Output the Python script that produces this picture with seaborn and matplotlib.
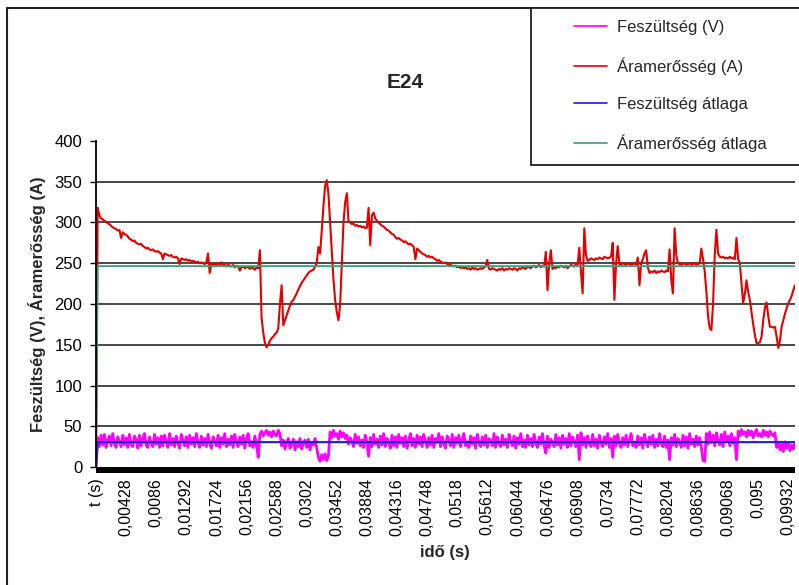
import numpy as np
import pandas as pd
import matplotlib
matplotlib.use("Agg")
import matplotlib.pyplot as plt
import seaborn as sns
from matplotlib.patches import Rectangle
from matplotlib.lines import Line2D

# ---------------- data (every 6th sample of the record, first row = header -> 0) ----------------
tick_labels = ["t (s)", "0,00428", "0,0086", "0,01292", "0,01724", "0,02156", "0,02588",
               "0,0302", "0,03452", "0,03884", "0,04316", "0,04748", "0,0518", "0,05612",
               "0,06044", "0,06476", "0,06908", "0,0734", "0,07772", "0,08204", "0,08636",
               "0,09068", "0,095", "0,09932"]

current = [0,
    318, 309, 305, 304, 302, 301, 299, 298, 296, 294, 293, 292, 290, 291, 281, 288, 286, 285, 283,
    280, 279, 277, 278, 275, 274, 273, 274, 271, 270, 268, 269, 267, 266, 267, 265, 264, 265, 263, 262,
    255, 262, 261, 260, 259, 260, 258, 257, 258, 256, 249, 256, 255, 254, 255, 253, 254, 252, 253, 252,
    251, 252, 250, 251, 250, 249, 251, 262, 238, 250, 248, 249, 247, 250, 248, 251, 247, 248, 246, 249,
    247, 246, 248, 245, 247, 246, 241, 245, 246, 244, 245, 246, 243, 245, 244, 242, 245, 244, 266, 184,
    165, 152, 147, 150, 155, 158, 160, 163, 165, 170, 200, 223, 174, 180, 186, 192, 198, 203, 205, 209,
    213, 218, 222, 226, 229, 232, 235, 238, 240, 241, 242, 246, 250, 270, 262, 290, 320, 345, 352, 335,
    300, 265, 230, 205, 190, 180, 200, 250, 300, 325, 336, 302, 300, 298, 299, 296, 297, 295, 296, 294,
    295, 293, 294, 318, 272, 309, 312, 305, 302, 300, 298, 296, 295, 293, 291, 290, 288, 286, 285, 282,
    280, 281, 279, 278, 276, 277, 275, 273, 274, 272, 270, 255, 268, 266, 264, 262, 261, 260, 258, 259,
    257, 258, 256, 255, 253, 254, 252, 251, 250, 251, 249, 248, 248, 247, 246, 247, 245, 246, 244, 245,
    244, 245, 243, 244, 242, 245, 243, 244, 242, 243, 244, 243, 245, 246, 254, 243, 242, 244, 243, 242,
    241, 243, 242, 244, 241, 243, 242, 244, 243, 242, 244, 243, 241, 244, 243, 245, 244, 243, 246, 245,
    244, 246, 247, 245, 246, 248, 245, 247, 246, 264, 217, 250, 266, 243, 245, 244, 246, 245, 247, 246,
    245, 247, 244, 246, 248, 247, 246, 249, 248, 269, 240, 213, 293, 260, 253, 254, 256, 255, 254, 256,
    255, 257, 256, 255, 258, 257, 256, 257, 258, 275, 205, 250, 271, 249, 248, 250, 249, 248, 250, 249,
    248, 249, 250, 248, 257, 223, 250, 255, 262, 266, 245, 238, 240, 239, 241, 238, 240, 239, 241, 240,
    239, 241, 240, 267, 230, 213, 293, 260, 250, 249, 248, 249, 250, 248, 249, 250, 248, 249, 250, 248,
    249, 250, 268, 255, 240, 215, 185, 170, 168, 200, 260, 291, 262, 258, 257, 258, 256, 257, 256, 258,
    256, 257, 255, 281, 255, 250, 225, 201, 212, 229, 215, 205, 190, 175, 162, 152, 152, 153, 160, 180,
    195, 202, 185, 172, 172, 171, 172, 160, 146, 155, 172, 180, 188, 195, 201, 205, 210, 217, 223]

voltage = [0,
    36, 25, 39, 27, 40, 24, 33, 38, 26, 41, 29, 24, 37, 31, 25, 39, 27, 36, 24,
    40, 28, 25, 38, 33, 23, 39, 26, 35, 41, 27, 24, 37, 30, 25, 40, 28, 36, 24, 38,
    26, 39, 31, 24, 41, 27, 35, 25, 38, 29, 23, 40, 33, 26, 37, 24, 39, 28, 36, 25,
    41, 30, 24, 38, 27, 35, 25, 40, 29, 23, 37, 32, 26, 39, 24, 36, 28, 41, 25, 34,
    27, 38, 24, 40, 30, 25, 37, 28, 39, 23, 35, 41, 26, 31, 24, 38, 27, 12, 40, 44,
    38, 42, 45, 39, 43, 37, 44, 40, 38, 45, 41, 26, 33, 22, 30, 35, 23, 28, 34, 21,
    31, 25, 35, 22, 29, 33, 24, 34, 21, 30, 27, 35, 23, 12, 7, 15, 9, 16, 8, 14,
    43, 36, 45, 38, 41, 34, 44, 37, 42, 35, 39, 28, 36, 31, 25, 40, 29, 37, 26, 33,
    24, 39, 30, 13, 36, 25, 40, 28, 34, 24, 38, 27, 41, 25, 35, 30, 23, 39, 26, 37,
    24, 40, 29, 36, 25, 38, 23, 33, 41, 26, 35, 24, 39, 28, 37, 25, 40, 31, 24, 36,
    27, 39, 24, 35, 30, 41, 25, 37, 28, 23, 38, 33, 26, 40, 24, 36, 29, 39, 25, 34,
    41, 26, 31, 24, 38, 28, 36, 23, 40, 30, 25, 37, 27, 39, 24, 35, 32, 26, 41, 24,
    37, 29, 25, 39, 27, 34, 24, 40, 31, 26, 38, 23, 36, 28, 41, 25, 33, 24, 39, 27,
    35, 25, 40, 29, 24, 37, 28, 41, 26, 17, 38, 24, 34, 30, 25, 40, 27, 36, 23, 39,
    28, 35, 24, 41, 26, 37, 31, 25, 39, 9, 42, 27, 36, 24, 38, 29, 25, 40, 26, 34,
    23, 39, 30, 25, 37, 28, 41, 24, 35, 12, 38, 26, 40, 29, 24, 36, 27, 39, 25, 33,
    41, 26, 30, 24, 38, 27, 36, 23, 40, 31, 25, 37, 28, 39, 24, 34, 26, 41, 29, 25,
    38, 24, 33, 9, 36, 27, 40, 25, 35, 30, 24, 39, 26, 37, 23, 41, 28, 34, 25, 38,
    27, 36, 24, 8, 7, 41, 28, 43, 30, 39, 26, 42, 33, 27, 40, 25, 43, 31, 38, 26,
    41, 29, 36, 9, 44, 38, 46, 40, 43, 37, 45, 39, 44, 36, 42, 46, 38, 41, 37, 45,
    39, 43, 37, 44, 40, 38, 42, 24, 30, 21, 28, 19, 31, 23, 29, 20, 27, 22, 30]

voltage_avg_value = 30.5
current_avg_value = 246.5

series_names = ["Feszültség (V)", "Áramerősség (A)", "Feszültség átlaga", "Áramerősség átlaga"]
series_colors = ["#FF00FF", "#E60000", "#1C1CCC", "#3E9E78"]

n = len(current)
voltage_avg = [0] + [voltage_avg_value] * (n - 1)
current_avg = [0] + [current_avg_value] * (n - 1)
sample = np.arange(n)

df = pd.concat([pd.DataFrame({"i": sample, "v": vals, "s": name})
                for name, vals in zip(series_names, [voltage, current, voltage_avg, current_avg])],
               ignore_index=True)

# ---------------- figure ----------------
sns.set_theme(style="white")
plt.rcParams["font.family"] = ["Liberation Sans", "DejaVu Sans"]

W, H = 799, 585
fig = plt.figure(figsize=(W / 100, H / 100), dpi=100)
fig.patch.set_facecolor("white")
ax_l, ax_r, ax_t, ax_b = 96, 795, 141, 467
ax = fig.add_axes([ax_l / W, 1 - ax_b / H, (ax_r - ax_l) / W, (ax_b - ax_t) / H])

sns.lineplot(data=df, x="i", y="v", hue="s", hue_order=series_names,
             palette=dict(zip(series_names, series_colors)), estimator=None, sort=False,
             legend=False, ax=ax, linewidth=1.0)
for ln, lw in zip(ax.lines, [2.0, 1.5, 1.5, 1.3]):
    ln.set_linewidth(lw)

ax.set_xlim(0, n - 1)
ax.set_ylim(0, 400)
ax.set_xlabel("")
ax.set_ylabel("")

# y axis
ax.set_yticks(range(0, 401, 50))
ax.tick_params(axis="y", length=4.3, width=1, color="black", pad=5.5, labelsize=12,
               labelcolor="black", left=True)
ax.yaxis.grid(True, color="#3a3a3a", linewidth=1.3)
gl = ax.get_ygridlines()
gl[0].set_visible(False)
gl[-1].set_visible(False)

# x axis (category labels every 108 records = every 18 plotted samples)
ax.set_xticks([18 * k for k in range(len(tick_labels))])
ax.set_xticklabels(tick_labels, rotation=90, fontsize=11.5, color="black")
ax.tick_params(axis="x", length=4.3, width=1.2, color="white", pad=3.6, bottom=True,
               direction="out")
band_h = 6 / (ax_b - ax_t)
ax.add_patch(Rectangle((0, -band_h), 1, band_h, transform=ax.transAxes, clip_on=False,
                       facecolor="black", edgecolor="none", zorder=2.2))

for side in ["top", "right", "bottom"]:
    ax.spines[side].set_visible(False)
ax.spines["left"].set_color("black")
ax.spines["left"].set_linewidth(1.3)

# texts
fig.text(405 / W, 1 - 83 / H, "E24", ha="center", va="center", fontsize=15, fontweight="bold")
fig.text(37 / W, 1 - 304 / H, "Feszültség (V), Áramerősség (A)", ha="center", va="center",
         rotation=90, fontsize=12, fontweight="bold")
fig.text(445 / W, 1 - 553 / H, "idő (s)", ha="center", va="center", fontsize=12,
         fontweight="bold")

# outer chart border (top and left visible)
fig.add_artist(Line2D([7 / W, 7 / W], [1 - 8 / H, 0], transform=fig.transFigure,
                      color="#202020", linewidth=1.5, zorder=4))
fig.add_artist(Line2D([7 / W, 1], [1 - 8 / H, 1 - 8 / H], transform=fig.transFigure,
                      color="#202020", linewidth=1.5, zorder=4))

# legend box
fig.add_artist(Rectangle((531 / W, 1 - 165 / H), (820 - 531) / W, (165 - 8) / H,
                         transform=fig.transFigure, facecolor="white", edgecolor="#202020",
                         linewidth=1.3, zorder=4.5))
handles = [Line2D([], [], color=c, linewidth=1.2) for c in series_colors]
fig.legend(handles, series_names, loc="upper left", bbox_to_anchor=(574 / W, 1 - 20 / H),
           frameon=False, fontsize=12, handlelength=2.0, handletextpad=0.6,
           labelspacing=1.34, borderpad=0, borderaxespad=0).set_zorder(5)

fig.savefig("out.png", dpi=100, facecolor="white")
